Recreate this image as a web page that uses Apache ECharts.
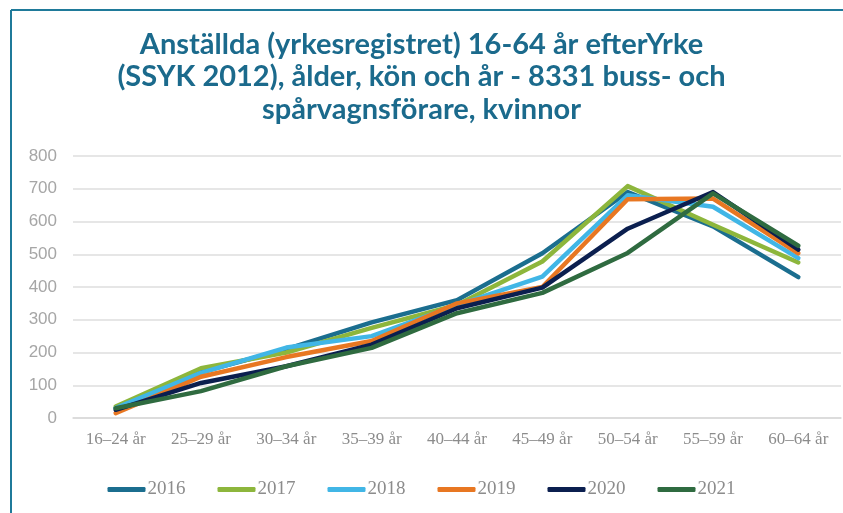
<!DOCTYPE html>
<html>
<head>
<meta charset="utf-8">
<script src="https://cdn.jsdelivr.net/npm/echarts@6/dist/echarts.min.js"></script>
<style>
  html, body { margin: 0; padding: 0; background: #fff; }
  #chart { width: 843px; height: 513px; }
</style>
</head>
<body>
<div id="chart"></div>
<script>
// åldersgrupper
const categories = ['16–24 år', '25–29 år', '30–34 år', '35–39 år', '40–44 år', '45–49 år', '50–54 år', '55–59 år', '60–64 år'];
const years = ['2016', '2017', '2018', '2019', '2020', '2021'];
const colors = ['#1b6e8f', '#8db63c', '#41b6e6', '#e87722', '#0b1f4f', '#2f6b40'];

// anställda per år
const v2016 = [30, 140, 210, 292, 360, 503, 690, 585, 430];
const v2017 = [35, 152, 200, 275, 345, 478, 708, 590, 475];
const v2018 = [30, 138, 215, 250, 345, 432, 680, 645, 488];
const v2019 = [15, 126, 186, 235, 350, 400, 668, 670, 503];
const v2020 = [25, 107, 158, 224, 335, 398, 578, 690, 514];
const v2021 = [30, 82, 158, 214, 320, 382, 504, 686, 526];
const values = [v2016, v2017, v2018, v2019, v2020, v2021];

const yTicks = [0, 800, 100]; // min, max, steg

const chart = echarts.init(document.getElementById('chart'));

const series = years.map((y, i) => ({
  name: y,
  type: 'line',
  data: values[i],
  symbol: 'none',
  lineStyle: { width: 4.5, color: colors[i], cap: 'round', join: 'round' },
  itemStyle: { color: colors[i] }
}));

const option = {
  animation: false,
  title: {
    text: 'Anställda (yrkesregistret) 16-64 år efterYrke\n(SSYK 2012), ålder, kön och år - 8331 buss- och\nspårvagnsförare, kvinnor',
    left: 'center',
    top: 23,
    textStyle: {
      fontFamily: 'Lato',
      fontWeight: 'bold',
      fontSize: 29,
      lineHeight: 32.5,
      color: '#1b6a8c'
    }
  },
  graphic: [
    { type: 'line', shape: { x1: 11, y1: 10, x2: 843, y2: 10 }, style: { stroke: '#1f7a9a', lineWidth: 2 } },
    { type: 'line', shape: { x1: 11, y1: 10, x2: 11, y2: 513 }, style: { stroke: '#1f7a9a', lineWidth: 2 } }
  ],
  legend: {
    data: years,
    bottom: 9,
    left: 'center',
    icon: 'roundRect',
    itemWidth: 38,
    itemHeight: 5,
    itemGap: 32,
    textStyle: { fontFamily: 'Liberation Serif', fontSize: 19, color: '#8c8c8c', padding: [0, 0, 0, -3] }
  },
  grid: { left: 73, right: 2, top: 156, bottom: 95 },
  xAxis: {
    type: 'category',
    data: categories,
    boundaryGap: true,
    axisLine: { lineStyle: { color: '#d9d9d9', width: 1.5 } },
    axisTick: { show: false },
    axisLabel: { interval: 0, fontFamily: 'Liberation Serif', fontSize: 17, color: '#8c8c8c', margin: 13 }
  },
  yAxis: {
    type: 'value',
    min: yTicks[0],
    max: yTicks[1],
    interval: yTicks[2],
    axisLine: { show: false },
    axisTick: { show: false },
    splitLine: { lineStyle: { color: '#dedede', width: 1.5 } },
    axisLabel: { fontFamily: 'Liberation Sans', fontSize: 17, color: '#a6a6a6', margin: 16 }
  },
  series: series
};

chart.setOption(option);
</script>
</body>
</html>
